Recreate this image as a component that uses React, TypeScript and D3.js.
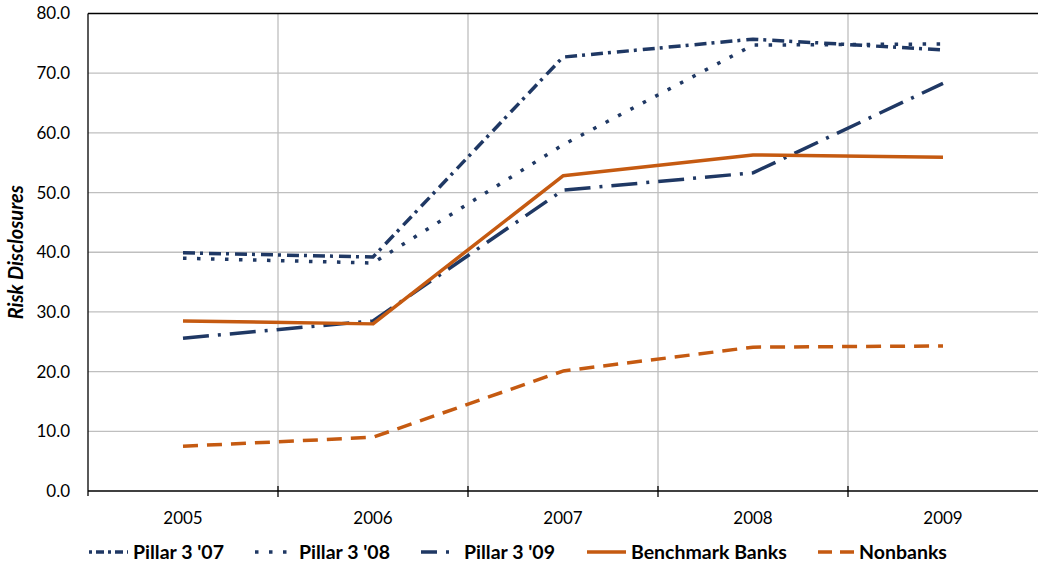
import React from "react";
import * as d3 from "d3";

const years = ["2005", "2006", "2007", "2008", "2009"];
const yTicks = [0, 10, 20, 30, 40, 50, 60, 70, 80];
const pillar07 = [39.9, 39.2, 72.7, 75.7, 73.9];
const pillar08 = [39.0, 38.2, 58.0, 74.7, 74.9];
const pillar09 = [25.6, 28.5, 50.4, 53.3, 68.3];
const benchmark = [28.5, 28.0, 52.8, 56.3, 55.9];
const nonbanks = [7.5, 9.0, 20.1, 24.1, 24.3];

const NAVY = "#1F3864";
const ORANGE = "#C55A11";

const series = [
  { name: "Pillar 3 '07", values: pillar07, color: NAVY, dash: "12,5,3,6", ldash: "3,4,8,4", sym: [89, 128], tx: 133 },
  { name: "Pillar 3 '08", values: pillar08, color: NAVY, dash: "3.5,10.5", ldash: "3.5,10.5", sym: [255, 290], tx: 299 },
  { name: "Pillar 3 '09", values: pillar09, color: NAVY, dash: "26,9,3,9", ldash: "16,9,3,9", sym: [421, 453], tx: 464 },
  { name: "Benchmark Banks", values: benchmark, color: ORANGE, dash: "", ldash: "", sym: [587, 626], tx: 631 },
  { name: "Nonbanks", values: nonbanks, color: ORANGE, dash: "15,9", ldash: "14,8", sym: [818, 855], tx: 859 },
];

export default function App() {
  const W = 1038, H = 563;
  const left = 88, right = 1038, top = 13.5, bottom = 491;
  const x = d3.scaleBand<string>().domain(years).range([left, right]);
  const y = d3.scaleLinear().domain([0, 80]).range([bottom, top]);
  const line = d3
    .line<number>()
    .x((_, i) => (x(years[i]) as number) + x.bandwidth() / 2)
    .y((v) => y(v));
  const font = "Lato, 'Open Sans', sans-serif";
  const bounds = years.map((yr) => x(yr) as number).concat([right]);
  return (
    <svg width={W} height={H} style={{ position: "absolute", left: 0, top: 0 }} fontFamily={font}>
      <rect width={W} height={H} fill="#fff" />
      {yTicks.filter((t) => t > 0 && t < 80).map((t) => (
        <line key={"h" + t} x1={left} x2={right} y1={y(t)} y2={y(t)} stroke="#BFBFBF" strokeWidth={1.3} />
      ))}
      {bounds.slice(1, -1).map((b, i) => (
        <line key={"v" + i} x1={b} x2={b} y1={top} y2={bottom} stroke="#BFBFBF" strokeWidth={1.3} />
      ))}
      <line x1={left} x2={right} y1={top} y2={top} stroke="#000" strokeWidth={1.5} />
      <line x1={left} x2={left} y1={top} y2={bottom + 5} stroke="#000" strokeWidth={1.3} />
      <line x1={left} x2={right} y1={bottom} y2={bottom} stroke="#000" strokeWidth={1.5} />
      {bounds.slice(1, -1).map((b, i) => (
        <line key={"t" + i} x1={b} x2={b} y1={bottom - 5} y2={bottom + 6} stroke="#000" strokeWidth={1.3} />
      ))}
      {yTicks.map((t) => (
        <text key={"yl" + t} x={70} y={y(t)} dy="0.35em" textAnchor="end" fontSize={17} fill="#000">
          {t.toFixed(1)}
        </text>
      ))}
      {years.map((yr) => (
        <text key={"xl" + yr} x={(x(yr) as number) + x.bandwidth() / 2} y={524} textAnchor="middle" fontSize={17} fill="#000">
          {yr}
        </text>
      ))}
      <text
        transform={`translate(23,${(top + bottom) / 2}) rotate(-90)`}
        textAnchor="middle"
        fontSize={20}
        fontWeight="bold"
        fontStyle="italic"
        fill="#000"
      >
        Risk Disclosures
      </text>
      {series.map((s) => (
        <path
          key={s.name}
          d={line(s.values) || ""}
          fill="none"
          stroke={s.color}
          strokeWidth={3.5}
          strokeDasharray={s.dash || undefined}
          strokeLinejoin="round"
        />
      ))}
      {series.map((s) => (
        <g key={"lg" + s.name}>
          <line x1={s.sym[0]} x2={s.sym[1]} y1={552} y2={552} stroke={s.color} strokeWidth={3.5} strokeDasharray={s.ldash || undefined} />
          <text x={s.tx} y={552} dy="0.35em" fontSize={19.5} fontWeight="bold" fill="#000">
            {s.name}
          </text>
        </g>
      ))}
    </svg>
  );
}
